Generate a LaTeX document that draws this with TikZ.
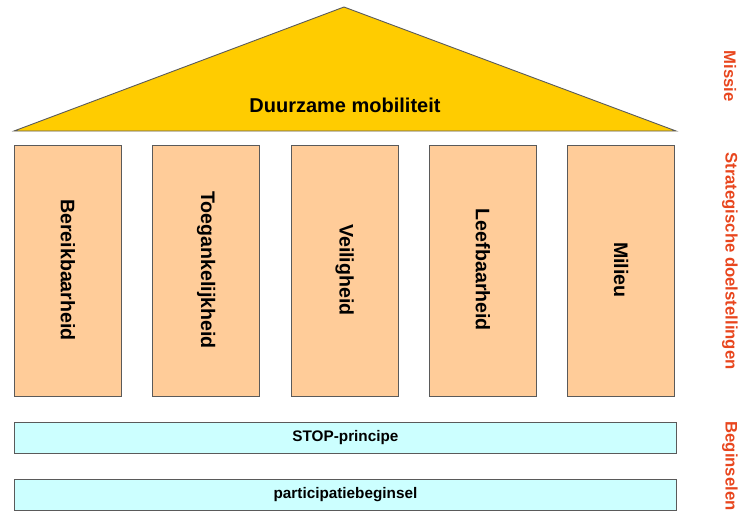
\documentclass[tikz,border=0pt]{standalone}
\usepackage{fontspec}
\setmainfont{Liberation Sans}
\definecolor{roofc}{HTML}{FFCC00}
\definecolor{pillarc}{HTML}{FFCC99}
\definecolor{barc}{HTML}{CCFFFF}
\definecolor{edgec}{HTML}{5A5A5A}
\definecolor{labelc}{HTML}{E8461E}
\begin{document}
\begin{tikzpicture}[x=1pt,y=-1pt,
  pillar/.style={draw=edgec,line width=0.9pt,fill=pillarc,minimum width=107pt,minimum height=251pt,inner sep=0pt,anchor=north west},
  pillartext/.style={rotate=-90,font=\fontsize{19.6}{22}\selectfont\bfseries,inner sep=0pt},
  bar/.style={draw=edgec,line width=0.9pt,fill=barc,minimum width=662pt,minimum height=31pt,inner sep=0pt,anchor=north west},
  bartext/.style={font=\fontsize{15.3}{18}\selectfont\bfseries,inner sep=0pt},
  sidelabel/.style={rotate=-90,text=labelc,font=\fontsize{16.7}{20}\selectfont\bfseries,inner sep=0pt}]
\useasboundingbox (0,0) rectangle (738,514);
% roof
\coordinate (rl) at (14,131);
\coordinate (rt) at (344,7);
\coordinate (rr) at (676,131);
\draw[edgec,line width=0.9pt,fill=roofc,line join=miter] (rl) -- (rt) -- (rr) -- cycle;
\node[font=\fontsize{20}{24}\selectfont\bfseries,inner sep=0pt] (roof) at (345,105) {Duurzame mobiliteit};
% pillars
\node[pillar] (p1) at (14,145) {};
\node[pillar] (p2) at (152.3,145) {};
\node[pillar] (p3) at (290.6,145) {};
\node[pillar] (p4) at (428.9,145) {};
\node[pillar] (p5) at (567.2,145) {};
\node[pillartext] (t1) at ([yshift=1pt]p1.center) {Bereikbaarheid};
\node[pillartext] (t2) at ([yshift=1pt]p2.center) {Toegankelijkheid};
\node[pillartext] (t3) at ([yshift=1pt]p3.center) {Veiligheid};
\node[pillartext] (t4) at ([yshift=1pt]p4.center) {Leefbaarheid};
\node[pillartext] (t5) at ([yshift=1pt]p5.center) {Milieu};
% bars
\node[bar] (b1) at (14,422) {};
\node[bar] (b2) at (14,478.5) {};
\node[bartext] (bt1) at (b1.center) {STOP-principe};
\node[bartext] (bt2) at (b2.center) {participatiebeginsel};
% side labels
\node[sidelabel] (s1) at (730,76) {Missie};
\node[sidelabel] (s2) at (730,261) {Strategische doelstellingen};
\node[sidelabel] (s3) at (730,466) {Beginselen};
\end{tikzpicture}
\end{document}
